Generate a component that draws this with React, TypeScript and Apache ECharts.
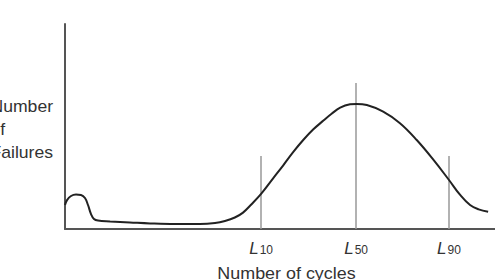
import React, { useEffect, useRef } from "react";
import * as echarts from "echarts";

// Number of cycles (arbitrary units) and number of failures (arbitrary units)
const cycles = [0, 0.47, 1.4, 2.56, 3.72, 4.65, 5.35, 6.05, 6.74, 7.67, 10.5, 15.1, 19.8, 25.6, 31.4, 34.9, 37.2, 39.5, 41.4, 43.2, 45.6, 48.4, 50.8, 53.1, 55.4, 57.7, 60.1, 62.0, 64.0, 66.3, 67.8, 70.2, 74.0, 77.9, 81.8, 85.7, 89.3, 91.9, 94.2, 96.2, 98.4];
const failures = [11.7, 14.1, 16.1, 16.8, 16.6, 15.1, 11.7, 7.3, 4.9, 4.1, 3.7, 3.2, 2.7, 2.4, 2.4, 2.9, 3.9, 5.6, 8.0, 11.7, 17.1, 24.7, 31.2, 37.6, 43.4, 48.5, 52.9, 56.2, 59.2, 60.8, 61.0, 60.5, 57.2, 51.6, 43.4, 33.7, 23.9, 16.6, 11.7, 9.6, 8.4];

// Life markers
const lifeNames = ["10", "50", "90"];
const lifeCycles = [45.6, 67.7, 89.3];
const lifeHeights = [35.6, 71.2, 35.6];

export default function App() {
  const ref = useRef<HTMLDivElement>(null);
  useEffect(() => {
    if (!ref.current) return;
    const chart = echarts.init(ref.current, null, { renderer: "svg" });
    const points = cycles.map((c, i) => [c, failures[i]]);
    const markData = lifeCycles.map((c, i) => [
      { coord: [c, 0] },
      { coord: [c, lifeHeights[i]] },
    ]);
    chart.setOption({
      animation: false,
      textStyle: { fontFamily: "Liberation Sans" },
      grid: { left: 65, right: 0, top: 24, bottom: 51 },
      xAxis: {
        type: "value",
        min: 0,
        max: 100,
        splitLine: { show: false },
        axisLine: { lineStyle: { color: "#555", width: 2 } },
        axisTick: { show: false },
        axisLabel: {
          customValues: lifeCycles,
          margin: 11,
          formatter: (v: number) => {
            const i = lifeCycles.indexOf(v);
            return i >= 0 ? `{l|L}{n|${lifeNames[i]}}` : "";
          },
          rich: {
            l: { fontSize: 17, fontStyle: "italic", color: "#333", fontFamily: "Liberation Sans" },
            n: { fontSize: 12, color: "#333", verticalAlign: "bottom", fontFamily: "Liberation Sans", padding: [0, 0, 1, 1] },
          },
        },
      },
      yAxis: {
        type: "value",
        min: 0,
        max: 100,
        splitLine: { show: false },
        axisLine: { show: true, lineStyle: { color: "#555", width: 2 } },
        axisTick: { show: false },
        axisLabel: { show: false },
      },
      series: [
        {
          type: "line",
          data: points,
          smooth: 0.4,
          symbol: "none",
          lineStyle: { color: "#222", width: 2 },
          z: 3,
          markLine: {
            silent: true,
            symbol: "none",
            label: { show: false },
            lineStyle: { color: "#999", width: 1.5, type: "solid" },
            data: markData,
            z: 2,
          },
        },
      ],
      graphic: [
        {
          type: "text",
          x: -9.5,
          y: 95,
          scaleX: 1.1,
          style: {
            text: "Number\nof\nFailures",
            font: "16px Liberation Sans",
            lineHeight: 23,
            fill: "#333",
            verticalAlign: "top",
          },
        },
        {
          type: "text",
          x: 286.5,
          y: 274,
          scaleX: 1.12,
          style: {
            text: "Number of cycles",
            font: "16px Liberation Sans",
            fill: "#333",
            align: "center",
            verticalAlign: "middle",
          },
        },
      ],
    });
    return () => chart.dispose();
  }, []);
  return (
    <div
      ref={ref}
      style={{ position: "fixed", left: 0, top: 0, width: 495, height: 280, background: "#fff" }}
    />
  );
}
